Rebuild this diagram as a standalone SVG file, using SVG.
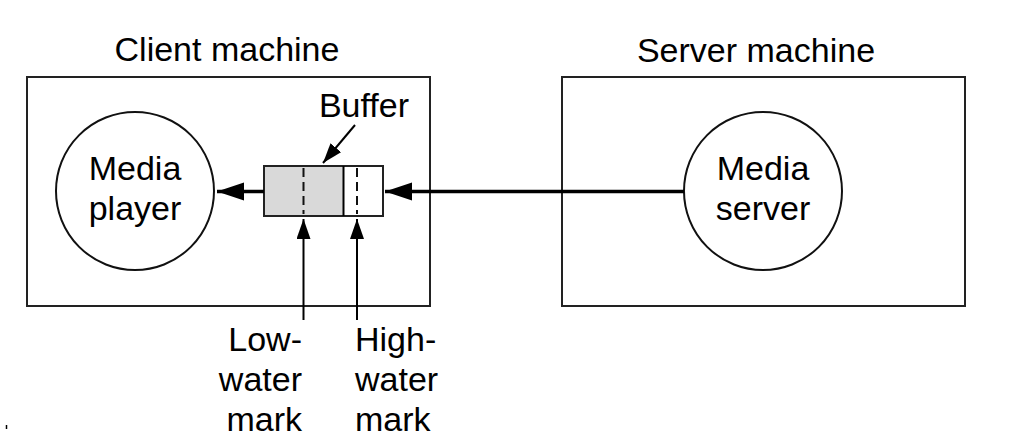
<svg xmlns="http://www.w3.org/2000/svg" width="1010" height="446" viewBox="0 0 1010 446">
<style>
text{font-family:"Liberation Sans",Arial,Helvetica,sans-serif;font-size:34px;fill:#000}
.box{fill:none;stroke:#222;stroke-width:2}
.circ{fill:#fff;stroke:#111;stroke-width:2}
.thick{stroke:#000;stroke-width:3.5;fill:none}
.thin{stroke:#000;stroke-width:2;fill:none}
.dash{stroke:#111;stroke-width:2;stroke-dasharray:9,5}
</style>
<defs>
<marker id="big" markerUnits="userSpaceOnUse" markerWidth="28" markerHeight="20" refX="27" refY="9" orient="auto">
<path d="M0,0 L27,9 L0,18 Z" fill="#000"/>
</marker>
<marker id="small" markerUnits="userSpaceOnUse" markerWidth="22" markerHeight="16" refX="20" refY="7" orient="auto">
<path d="M0,0 L20,7 L0,14 Z" fill="#000"/>
</marker>
</defs>
<g id="client">
<rect class="box" x="27" y="77" width="403" height="229"/>
<text x="227" y="61" text-anchor="middle">Client machine</text>
</g>
<g id="server">
<rect class="box" x="562" y="77" width="403" height="229"/>
<text x="756" y="62" text-anchor="middle">Server machine</text>
</g>
<g id="media-player">
<circle class="circ" cx="135" cy="191" r="79"/>
<text x="135" y="180" text-anchor="middle">Media</text>
<text x="135" y="220" text-anchor="middle">player</text>
</g>
<g id="media-server">
<circle class="circ" cx="763" cy="191" r="79"/>
<text x="763" y="180" text-anchor="middle">Media</text>
<text x="763" y="220" text-anchor="middle">server</text>
</g>
<g id="buffer">
<rect x="264" y="166" width="80" height="50" fill="#d9d9d9"/>
<rect class="box" x="264" y="166" width="119" height="50"/>
<line class="thin" x1="343.5" y1="166" x2="343.5" y2="216"/>
<line class="dash" x1="303.5" y1="168" x2="303.5" y2="214"/>
<line class="dash" x1="357" y1="168" x2="357" y2="214"/>
<text x="364" y="117" text-anchor="middle">Buffer</text>
</g>
<g id="labels">
<text x="302" y="351" text-anchor="end">Low-</text>
<text x="302" y="391" text-anchor="end">water</text>
<text x="302" y="431" text-anchor="end">mark</text>
<text x="355" y="351">High-</text>
<text x="355" y="391">water</text>
<text x="355" y="431">mark</text>
</g>
<g id="connectors">
<line class="thick" x1="684" y1="191.5" x2="385" y2="191.5" marker-end="url(#big)"/>
<line class="thick" x1="264" y1="191.5" x2="217" y2="191.5" marker-end="url(#big)"/>
<line class="thin" x1="303.5" y1="320" x2="303.5" y2="219" marker-end="url(#small)"/>
<line class="thin" x1="357" y1="320" x2="357" y2="219" marker-end="url(#small)"/>
<line class="thin" x1="355" y1="125" x2="323" y2="163" marker-end="url(#small)"/>
</g>
<line x1="6.5" y1="425" x2="6.5" y2="429" stroke="#000" stroke-width="1.5"/>
</svg>
